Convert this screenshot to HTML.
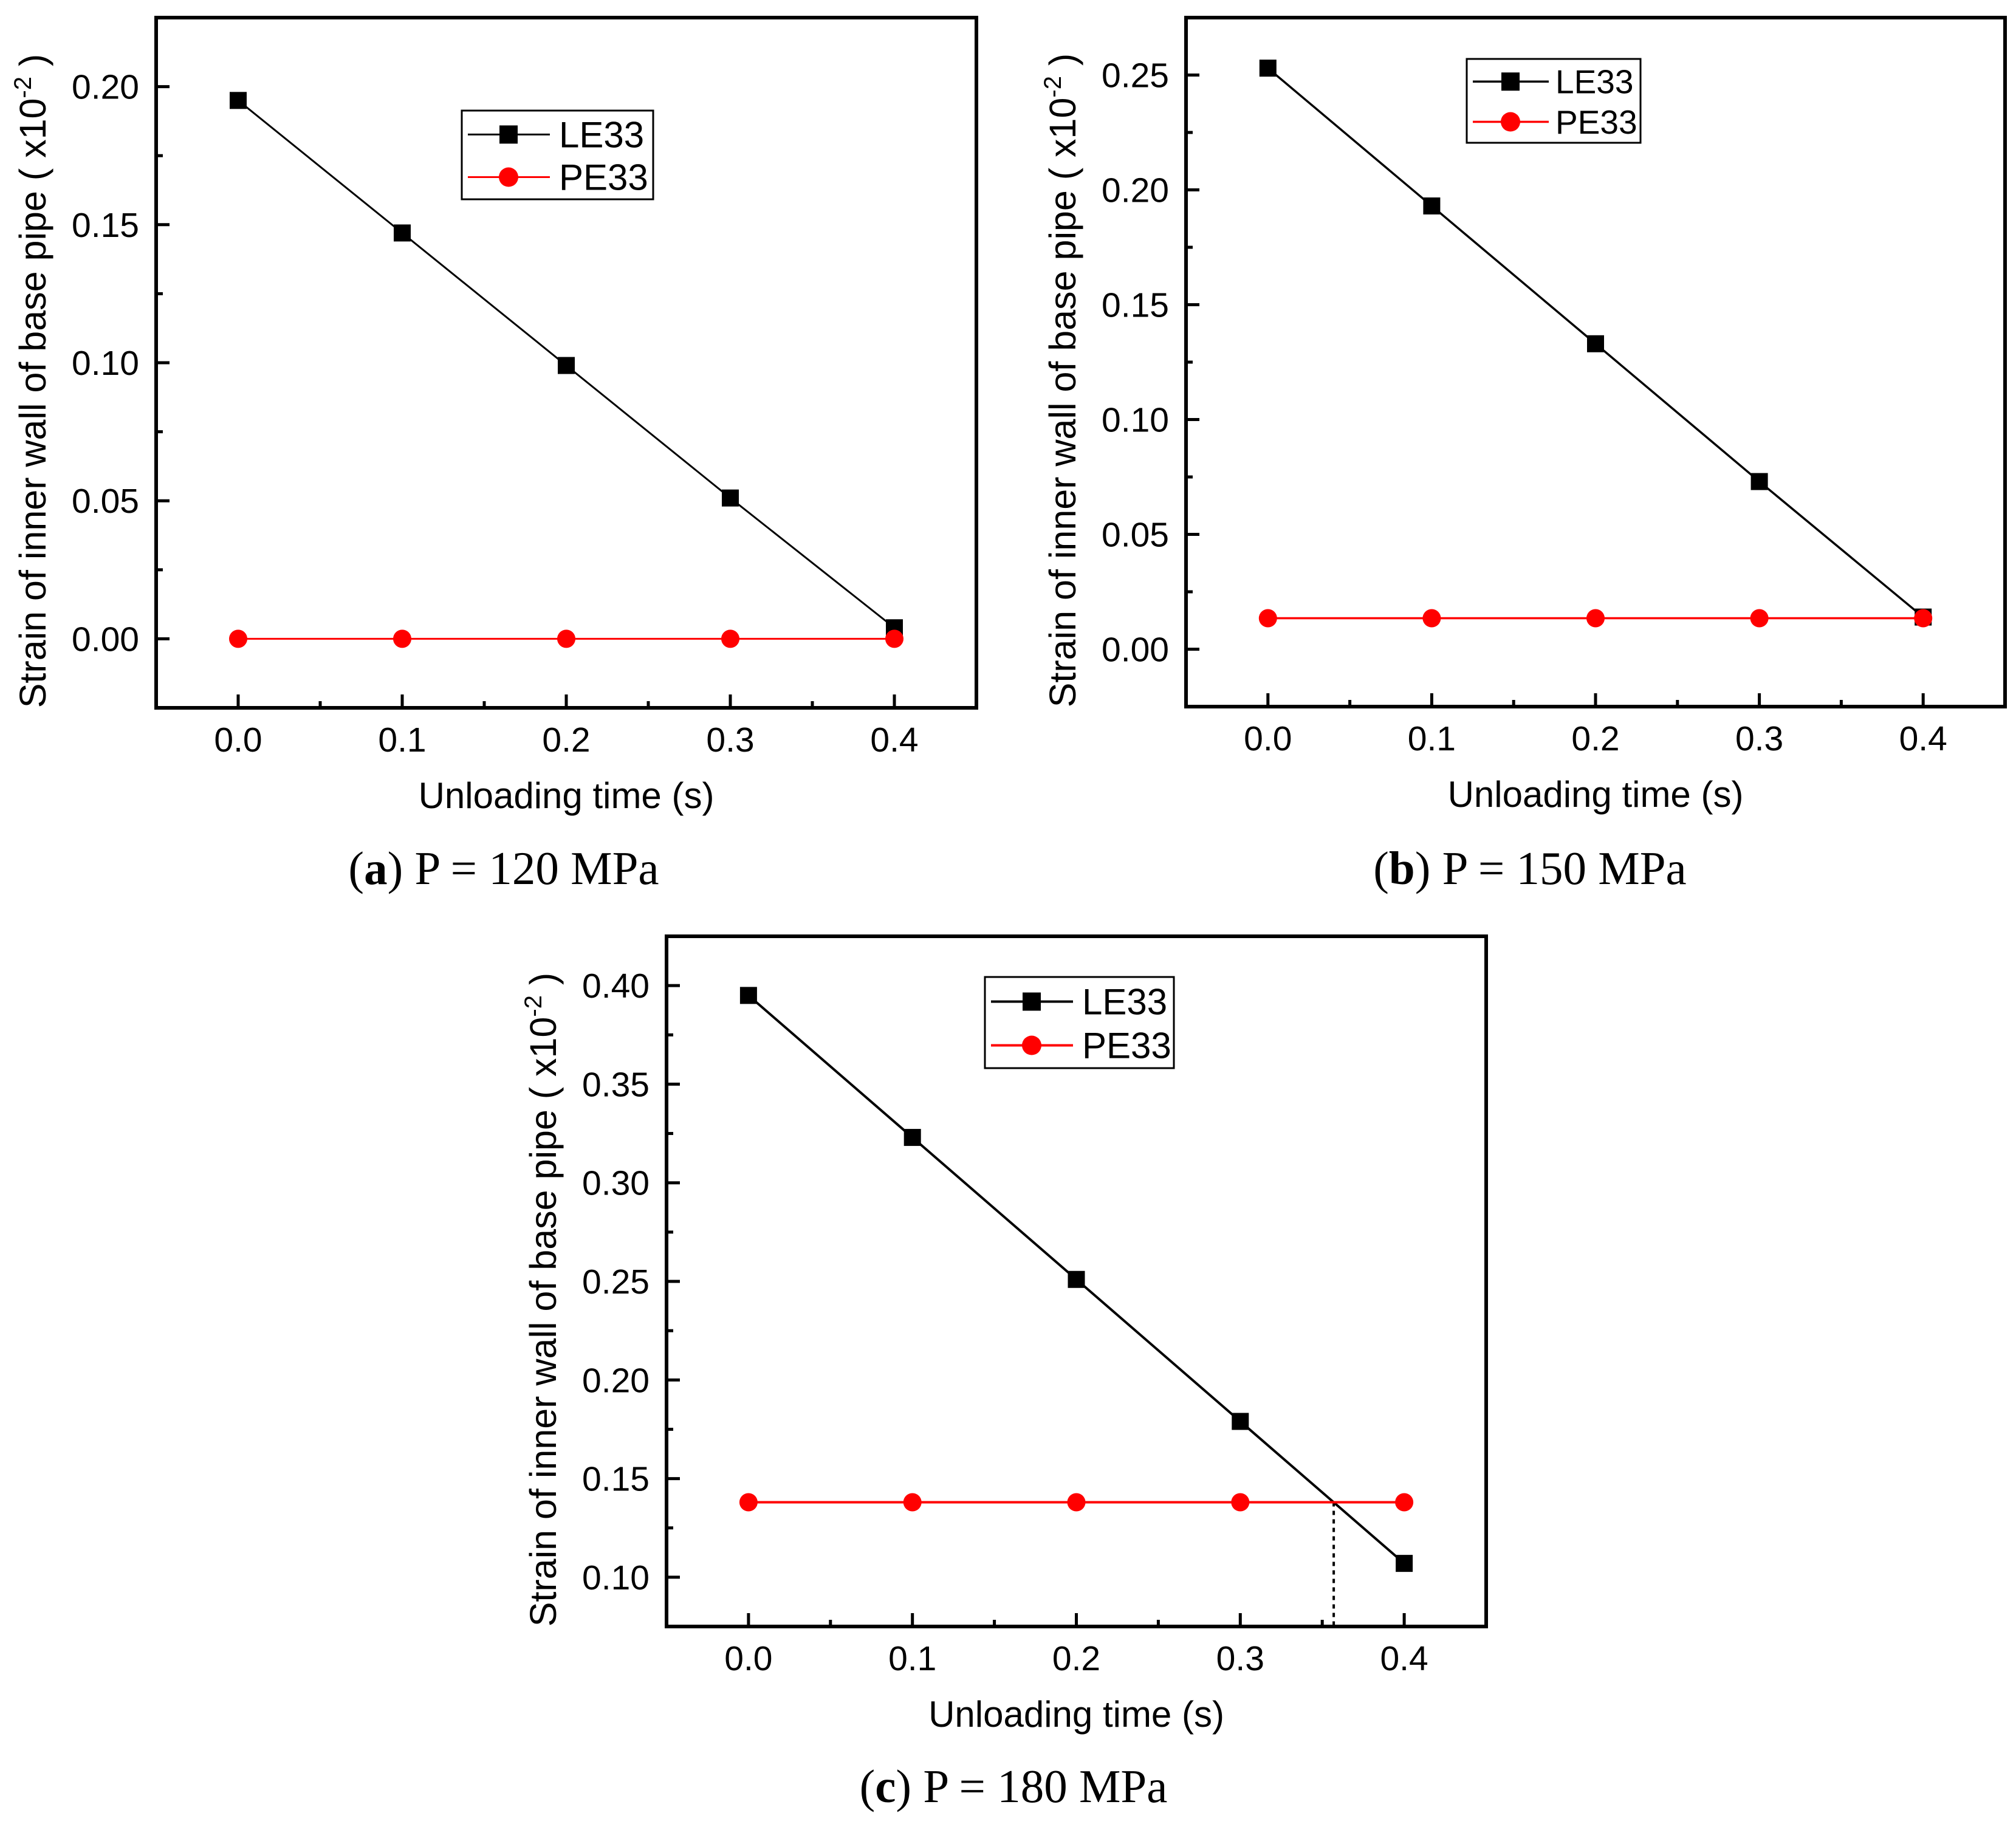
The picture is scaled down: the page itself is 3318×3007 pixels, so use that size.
<!DOCTYPE html>
<html><head><meta charset="utf-8"><style>
html,body{margin:0;padding:0;background:#fff;}
svg{display:block;}
text{font-family:"Liberation Sans",Arial,sans-serif;fill:#000;}
.cap{font-family:"Liberation Serif","Times New Roman",serif;}
</style></head>
<body>
<svg id="fig" width="3318" height="3007" viewBox="0 0 3318 3007" xmlns="http://www.w3.org/2000/svg"></svg>
<script>
const xCategories = [0.0, 0.1, 0.2, 0.3, 0.4];
const xTickLabels = ["0.0","0.1","0.2","0.3","0.4"];
const leA = [0.195, 0.147, 0.099, 0.051, 0.004];
const peA = [0.000, 0.000, 0.000, 0.000, 0.000];
const leB = [0.253, 0.193, 0.133, 0.073, 0.014];
const peB = [0.0135, 0.0135, 0.0135, 0.0135, 0.0135];
const leC = [0.395, 0.323, 0.251, 0.179, 0.107];
const peC = [0.138, 0.138, 0.138, 0.138, 0.138];
const yTicksA = [0.00, 0.05, 0.10, 0.15, 0.20];
const yTicksB = [0.00, 0.05, 0.10, 0.15, 0.20, 0.25];
const yTicksC = [0.10, 0.15, 0.20, 0.25, 0.30, 0.35, 0.40];
const intersectC = [0.357];
const legendLabels = ["LE33", "PE33"];

const NS = "http://www.w3.org/2000/svg";
const svg = document.getElementById('fig');
function mk(tag, attrs, parent){
  const e = document.createElementNS(NS, tag);
  for (const k in attrs) e.setAttribute(k, attrs[k]);
  (parent||svg).appendChild(e);
  return e;
}

function panel(id, L, T, W, H, yMin, yMax, yTicks, le, pe, leg, cap, capX, capY, lw, extra){
  const g = mk('g', {});
  
  
  const xMin = -0.05, xMax = 0.45;
  const sx = v => L + (v - xMin) / (xMax - xMin) * W;
  const sy = v => T + H - (v - yMin) / (yMax - yMin) * H;
  const B = T + H;
  const yStep = 0.05;
  for (let i = 0; i < yTicks.length; i++){
    const v = yTicks[i], y = sy(v);
    const t = mk('line', {x1:L, y1:y, x2:L+22, y2:y, stroke:'#000','stroke-width':5}, g);
    
    
    const lb = mk('text', {x:L-28, y:y+20, 'font-size':57, 'text-anchor':'end'}, g);
    lb.textContent = v.toFixed(2);
    
    
  }
  for (let v = yTicks[0] - yStep/2; v < yMax; v += yStep){
    if (v <= yMin) continue;
    const y = sy(v);
    const m = mk('line', {x1:L, y1:y, x2:L+11, y2:y, stroke:'#000','stroke-width':5}, g);
    
    
  }
  for (let i = 0; i < xCategories.length; i++){
    const x = sx(xCategories[i]);
    const t = mk('line', {x1:x, y1:B, x2:x, y2:B-22, stroke:'#000','stroke-width':5}, g);
    
    
    const lb = mk('text', {x:x, y:B+72, 'font-size':57, 'text-anchor':'middle'}, g);
    lb.textContent = xTickLabels[i];
    
    
    if (i < xCategories.length - 1){
      const xm = sx(xCategories[i] + 0.05);
      const m = mk('line', {x1:xm, y1:B, x2:xm, y2:B-11, stroke:'#000','stroke-width':5}, g);
      
      
    }
  }
  if (extra){
    const xd = sx(extra[0]);
    const d = mk('line', {x1:xd, y1:sy(pe[0]), x2:xd, y2:B, stroke:'#000','stroke-width':4,'stroke-dasharray':'7,7'}, g);
    
    
  }
  const lePts = xCategories.map((x,i)=>sx(x)+','+sy(le[i])).join(' ');
  const lel = mk('polyline', {points:lePts, fill:'none', stroke:'#000','stroke-width':lw}, g);
  
  
  const pePts = xCategories.map((x,i)=>sx(x)+','+sy(pe[i])).join(' ');
  const pel = mk('polyline', {points:pePts, fill:'none', stroke:'#f00','stroke-width':lw}, g);
  
  
  for (let i = 0; i < xCategories.length; i++){
    const r = mk('rect', {x:sx(xCategories[i])-14, y:sy(le[i])-14, width:28, height:28, fill:'#000'}, g);
    
    
  }
  for (let i = 0; i < xCategories.length; i++){
    const c = mk('circle', {cx:sx(xCategories[i]), cy:sy(pe[i]), r:15, fill:'#f00'}, g);
    
    
  }
  const f = mk('rect', {x:L, y:T, width:W, height:H, fill:'none', stroke:'#000','stroke-width':6}, g);
  
  
  const [lx, ly, lwid, lh, lineEnd, markX, textX, fs] = leg;
  const lg = mk('g', {}, g);
  
  
  mk('rect', {x:lx, y:ly, width:lwid, height:lh, fill:'#fff', stroke:'#000','stroke-width':3}, lg);
  const rows = [ly + lh*0.27, ly + lh*0.75];
  const cols = ['#000', '#f00'];
  for (let k = 0; k < 2; k++){
    const e = mk('g', {}, lg);
    
    
    mk('line', {x1:lx+10, y1:rows[k], x2:lx+lineEnd, y2:rows[k], stroke:cols[k], 'stroke-width':lw}, e);
    if (k === 0) mk('rect', {x:lx+markX-15, y:rows[k]-15, width:30, height:30, fill:'#000'}, e);
    else mk('circle', {cx:lx+markX, cy:rows[k], r:16, fill:'#f00'}, e);
    const t = mk('text', {x:lx+textX, y:rows[k]+fs*0.35, 'font-size':fs}, e);
    t.textContent = legendLabels[k];
  }
  const xt = mk('text', {x:L+W/2, y:B+165, 'font-size':60, 'text-anchor':'middle'}, g);
  xt.textContent = 'Unloading time (s)';
  
  
  const ycx = L - 182, ycy = T + H/2 + 30;
  const yt = mk('text', {x:ycx, y:ycy, 'font-size':61, 'text-anchor':'middle', transform:'rotate(-90 '+ycx+' '+ycy+')'}, g);
  
  
  yt.appendChild(document.createTextNode('Strain of inner wall of base pipe ( x10'));
  const sup = mk('tspan', {dy:-24, 'font-size':40}, yt);
  sup.textContent = '-2';
  const close = mk('tspan', {dy:24}, yt);
  close.textContent = ' )';
  const ct = mk('text', {x:capX, y:capY, 'font-size':77, 'text-anchor':'middle', class:'cap'}, g);
  
  
  ct.appendChild(document.createTextNode('('));
  const b = mk('tspan', {'font-weight':'bold'}, ct);
  b.textContent = cap[0];
  ct.appendChild(document.createTextNode(') ' + cap[1]));
}

panel('a', 257, 29, 1350, 1136, -0.025, 0.225, yTicksA, leA, peA, [760,182,315,146,145,77,160,60], ['a','P = 120 MPa'], 829, 1455, 3, null);
panel('b', 1952, 29, 1348, 1134, -0.025, 0.275, yTicksB, leB, peB, [2414,97,286,138,135,72,146,55], ['b','P = 150 MPa'], 2518, 1455, 3.5, null);
panel('c', 1097, 1541, 1349, 1136, 0.075, 0.425, yTicksC, leC, peC, [1621,1608,311,150,145,77,160,60], ['c','P = 180 MPa'], 1668, 2966, 4, intersectC);
</script>
</body></html>
